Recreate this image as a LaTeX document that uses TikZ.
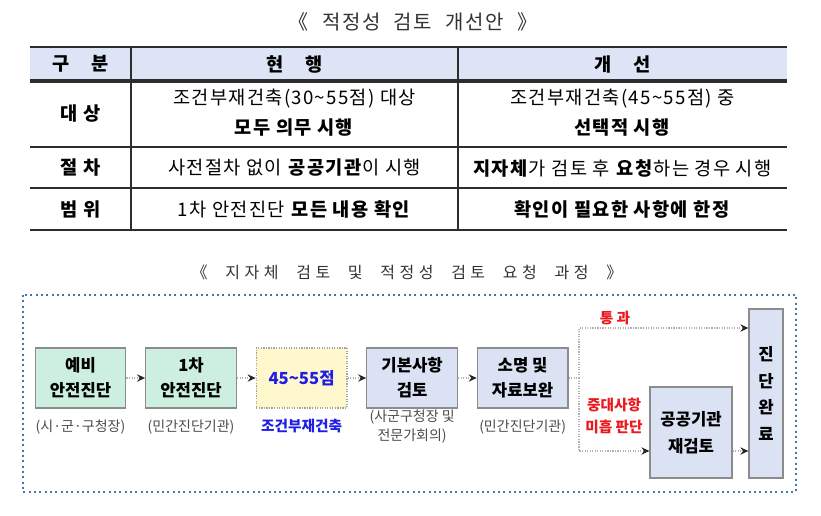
\documentclass[tikz,border=0pt]{standalone}
\usepackage{fontspec}
\setmainfont{Noto Sans CJK KR}
\newfontfamily\titlefont[LetterSpace=8,WordSpace=2.2]{Noto Sans CJK KR}
\newfontfamily\widetitlefont[LetterSpace=28,WordSpace=2.2]{Noto Sans CJK KR}
\newfontfamily\tablefont[LetterSpace=7]{Noto Sans CJK KR}
\newcommand\topheading{\fontsize{15}{17}\titlefont}
\newcommand\flowheading{\fontsize{12}{15}\widetitlefont}
\usetikzlibrary{arrows.meta,positioning}

\definecolor{headblue}{RGB}{221,228,246}
\definecolor{mint}{RGB}{204,239,224}
\definecolor{paleyellow}{RGB}{255,248,204}
\definecolor{lavender}{RGB}{218,226,243}
\definecolor{frameblue}{RGB}{60,120,180}
\definecolor{boxgray}{RGB}{140,140,140}
\definecolor{markred}{RGB}{235,25,30}
\definecolor{markblue}{RGB}{30,30,230}
\definecolor{rulegray}{RGB}{45,45,45}

\begin{document}
\begin{tikzpicture}[x=0.75pt, y=-0.75pt,
  cell/.style={font=\fontsize{14}{22.5}\tablefont, align=center, inner sep=0pt},
  keycell/.style={font=\fontsize{14}{16}\tablefont\bfseries, inner sep=0pt},
  stepbox/.style={draw=boxgray, line width=0.9pt, align=center, inner sep=0pt,
    minimum width=68pt, minimum height=45pt,
    font=\fontsize{12.5}{18.75}\selectfont\bfseries},
  note/.style={font=\fontsize{10.5}{14.25}\selectfont, text=black!70, align=center, inner sep=1pt},
  flow/.style={draw=gray!60, densely dotted, line width=0.9pt},
  tip/.style={-{Stealth[length=6pt,width=5.5pt,color=black!85]}},
  redlbl/.style={font=\fontsize{11}{16.5}\selectfont\bfseries, text=markred, align=center, inner sep=0pt}
]
  \useasboundingbox[fill=white] (0,0) rectangle (821,515);

  % first title and table
  \node[text=black!80, font=\topheading] (title) at (413,22) {《 적정성 검토 개선안 》};

  \fill[headblue] (30,47) rectangle (787,81);
  \draw[rulegray, line width=0.9pt] (30,47) -- (787,47);
  \draw[rulegray, line width=2.4pt] (30,81) -- (787,81);
  \draw[rulegray, line width=0.9pt] (30,147) -- (787,147);
  \draw[rulegray, line width=0.9pt] (30,188) -- (787,188);
  \draw[rulegray, line width=1.1pt] (30,230) -- (787,230);
  \draw[rulegray, line width=0.8pt] (131,47) -- (131,230);
  \draw[rulegray, line width=0.8pt] (458,47) -- (458,230);

  \node[keycell] (hkind) at (80.5,64) {구\hspace{1.2em}분};
  \node[keycell] (hnow) at (294.5,64) {현\hspace{1.2em}행};
  \node[keycell] (hnew) at (622.5,64) {개\hspace{1.2em}선};

  \node[keycell] (ktarget) at (80.5,114) {대 상};
  \node[keycell] (kproc) at (80.5,168) {절 차};
  \node[keycell] (krange) at (80.5,209) {범 위};

  \node[cell] (ntarget) at (294.5,113) {조건부재건축(30\textasciitilde55점) 대상\\\textbf{모두 의무 시행}};
  \node[cell] (nproc) at (294.5,168) {사전절차 없이 \textbf{공공기관}이 시행};
  \node[cell] (nrange) at (294.5,209) {1차 안전진단 \textbf{모든 내용 확인}};

  \node[cell] (ttarget) at (622.5,113) {조건부재건축(45\textasciitilde55점) 중\\\textbf{선택적 시행}};
  \node[cell] (tproc) at (622.5,168) {\textbf{지자체}가 검토 후 \textbf{요청}하는 경우 시행};
  \node[cell] (trange) at (622.5,209) {\textbf{확인이 필요한 사항에 한정}};

  % second title and flow
  \node[text=black!80, font=\flowheading] (title2) at (407,272) {《 지자체 검토 및 적정성 검토 요청 과정 》};

  \draw[frameblue, line width=1.6pt, dash pattern=on 1.6pt off 2.4pt] (23,295) rectangle (796,492);

  \node[stepbox, fill=mint] (pre) at (80.5,378) {예비\\안전진단};
  \node[stepbox, fill=mint, right=14pt of pre] (first) {1차\\안전진단};
  \node[stepbox, fill=paleyellow, draw=boxgray!80, densely dotted, right=14pt of first] (score) {\textcolor{markblue}{45\textasciitilde55점}};
  \node[stepbox, fill=lavender, right=14pt of score] (basic) {기본사항\\검토};
  \node[stepbox, fill=lavender, right=14pt of basic] (supp) {소명 및\\자료보완};
  \node[stepbox, fill=lavender, minimum width=61.5pt, minimum height=68.25pt,
    font=\fontsize{12.5}{20.25}\selectfont\bfseries] (public) at (691,432.5) {공공기관\\재검토};
  \node[stepbox, fill=lavender, minimum width=25.5pt, minimum height=126.75pt,
    font=\fontsize{12.5}{20}\selectfont\bfseries] (done) at (766,393.5) {진\\단\\완\\료};

  \node[note, below=7pt of pre] (prenote) {(시·군·구청장)};
  \node[note, below=7pt of first] (firstnote) {(민간진단기관)};
  \node[note, below=7pt of score, text=markblue, font=\fontsize{11}{14}\selectfont\bfseries] (scorenote) {조건부재건축};
  \node[note, below=0pt of basic] (basicnote) {(사군구청장 및\\전문가회의)};
  \node[note, below=7pt of supp] (suppnote) {(민간진단기관)};

  \foreach \a/\b in {pre/first, first/score, score/basic, basic/supp}
    \draw[flow, tip] (\a) -- (\b);

  \coordinate (fork) at (579,378);
  \coordinate (passup) at (579,328);
  \coordinate (faildown) at (579,451);
  \draw[flow] (supp.east) -- (fork);
  \draw[flow, tip] (fork) -- (passup) -- (done.west |- passup);
  \draw[flow, tip] (fork) -- (faildown) -- (public.west |- faildown);
  \draw[flow, tip] (public.east |- faildown) -- (done.west |- faildown);

  \node[redlbl] (pass) at (615,318) {통 과};
  \node[redlbl] (judge) at (614,416) {중대사항\\미흡 판단};
\end{tikzpicture}
\end{document}
